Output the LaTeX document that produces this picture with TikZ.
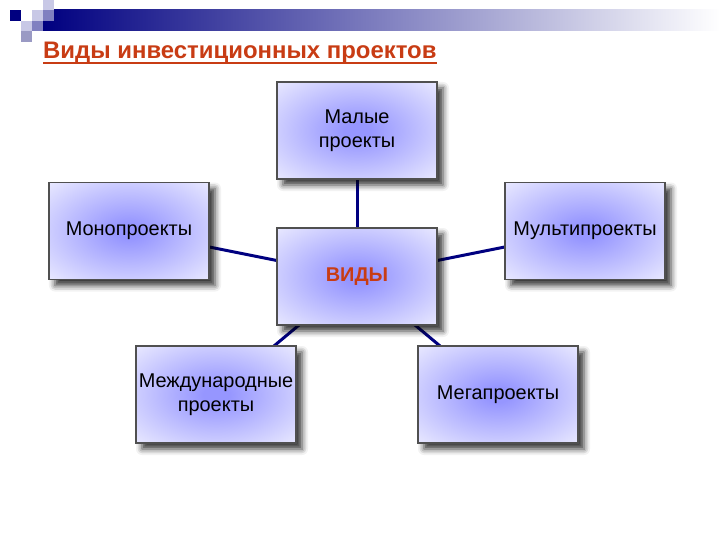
\documentclass[tikz,border=0pt]{standalone}
\usepackage{fontspec}
\setmainfont{Liberation Sans}
\usepackage{xcolor}
\usepackage{tikz}
\usetikzlibrary{positioning}
\usetikzlibrary{shadows.blur}
\usetikzlibrary{backgrounds}

\definecolor{navy}{RGB}{0,0,128}
\definecolor{rust}{RGB}{200,60,20}
\definecolor{glow}{RGB}{150,150,255}
\definecolor{frame}{RGB}{80,80,80}
\definecolor{lav}{RGB}{200,200,230}
\definecolor{midlav}{RGB}{128,128,192}
\definecolor{greylav}{RGB}{154,154,196}
\definecolor{shade}{RGB}{70,70,140}
\pgfdeclareradialshading{boxglow}{\pgfpoint{0bp}{0bp}}{color(0bp)=(glow); color(4bp)=(glow); color(44bp)=(white); color(50bp)=(white)}

\tikzset{
  kind/.style={draw=frame, line width=1.2bp, shading=boxglow,
    minimum width=160bp, minimum height=97bp, inner sep=0pt, outer sep=0pt,
    align=center, font=\fontsize{20}{24}\selectfont,
    blur shadow={shadow xshift=6bp, shadow yshift=-6bp, shadow opacity=80,
      shadow blur radius=6bp, fill=shade}},
  link/.style={navy, line width=3bp}
}

\begin{document}
\begin{tikzpicture}[x=1bp,y=-1bp]
      \useasboundingbox (0,0) rectangle (720,540);
      % header bar and squares
      \shade [left color=navy, right color=white] (43,10) rectangle (720,31);
      \fill [navy] (10,10) rectangle (21,21);
      \fill [lav] (32,10) rectangle (43,21);
      \fill [lav] (43,0) rectangle (54,10);
      \fill [midlav] (43,10) rectangle (54,21);
      \fill [lav] (21,21) rectangle (32,31);
      \fill [midlav] (32,21) rectangle (43,31);
      \fill [greylav] (21,31) rectangle (32,42);
      \node (title) [anchor=base west, text=rust, inner sep=0pt,
        font=\bfseries\fontsize{24}{28}\selectfont] at (43,59) {Виды инвестиционных проектов};
      \draw [rust, line width=2bp] ([yshift=-4bp]title.base west) -- ([yshift=-4bp]title.base east);

      \node (V) [kind, text=rust, font=\bfseries\fontsize{20}{24}\selectfont] at (357,276.5) {ВИДЫ};
      \node (Small) [kind, above=49bp of V] {Малые\\проекты};
      \node (Mono) [kind, left=68bp of V, yshift=45.5bp] {Монопроекты};
      \node (Multi) [kind, right=68bp of V, yshift=45.5bp] {Мультипроекты};
      \node (Intl) [kind, below=21bp of V, xshift=-141bp] {Международные\\проекты};
      \node (Mega) [kind, below=21bp of V, xshift=141bp] {Мегапроекты};

      \begin{scope}[on background layer]
        \foreach \n in {Small,Mono,Multi,Intl,Mega}
          \draw [link] (V.center) -- (\n.center);
      \end{scope}
    \end{tikzpicture}
\end{document}
